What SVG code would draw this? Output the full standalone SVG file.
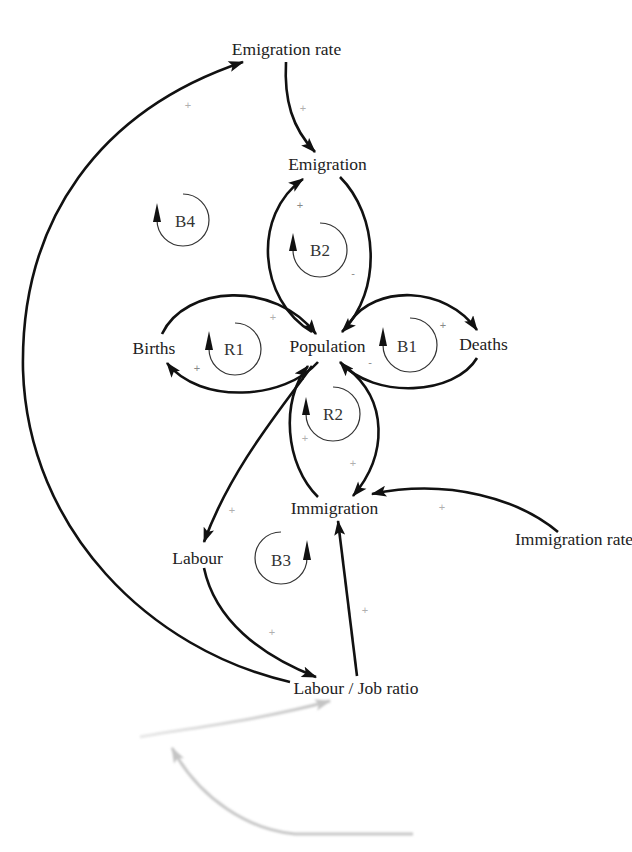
<svg xmlns="http://www.w3.org/2000/svg" width="632" height="852" viewBox="0 0 632 852">
<defs>
<marker id="ah" viewBox="0 0 14 10" refX="13" refY="5" markerWidth="16" markerHeight="11" markerUnits="userSpaceOnUse" orient="auto">
<path d="M0,0 L14,5 L0,10 L3,5 z" fill="#111"/>
</marker>
<marker id="ahg" viewBox="0 0 14 10" refX="13" refY="5" markerWidth="16" markerHeight="12" markerUnits="userSpaceOnUse" orient="auto">
<path d="M0,0 L14,5 L0,10 L3,5 z" fill="#c4c4c4"/>
</marker>
<linearGradient id="fadeL" x1="140" y1="0" x2="330" y2="0" gradientUnits="userSpaceOnUse">
<stop offset="0" stop-color="#e8e8e8"/>
<stop offset="1" stop-color="#c4c4c4"/>
</linearGradient>
<filter id="blur" x="-10%" y="-10%" width="120%" height="120%"><feGaussianBlur stdDeviation="1.2"/></filter>
</defs>
<style>
.lbl{font-family:"Liberation Serif","Times New Roman",serif;font-size:17.5px;fill:#222;text-anchor:middle}
.loop{font-family:"Liberation Serif","Times New Roman",serif;font-size:17px;fill:#333;text-anchor:middle}
.c{fill:none;stroke:#111;stroke-width:2.6;marker-end:url(#ah)}
.ring{fill:none;stroke:#333;stroke-width:1.2}
.tri{fill:#111}
.pol{font-family:"Liberation Sans",Arial,sans-serif;font-size:11px;fill:#b0b0b0;text-anchor:middle}
.polv{font-family:"Liberation Sans",Arial,sans-serif;font-size:11px;fill:#888;text-anchor:middle}
.ghost{fill:none;stroke-width:3;marker-end:url(#ahg);filter:url(#blur)}
</style>
<rect width="632" height="852" fill="#fff"/>

<g id="connectors">
<path class="c" d="M286,62 C284,100 292,128 315,152"/>
<path class="c" d="M290,682 C150,650 28,530 23,370 C20,220 100,110 243,62"/>
<path class="c" d="M312,332 C258,300 252,215 303,179"/>
<path class="c" d="M340,177 C378,215 383,290 342,332"/>
<path class="c" d="M162,334 C185,285 275,280 316,334"/>
<path class="c" d="M350,322 C375,285 445,285 477,330"/>
<path class="c" d="M477,358 C455,395 375,400 340,362"/>
<path class="c" d="M318,362 C285,400 200,405 167,363"/>
<path class="c" d="M312,366 C280,410 230,470 204,542"/>
<path class="c" d="M318,497 C285,465 280,400 308,366"/>
<path class="c" d="M347,368 C388,400 388,455 353,496"/>
<path class="c" d="M558,532 C520,500 450,478 372,494"/>
<path class="c" d="M357,676 L338,521"/>
<path class="c" d="M204,568 C215,620 260,655 316,677"/>
<path class="ghost" stroke="url(#fadeL)" d="M140,737 C190,728 260,720 330,701"/>
<path class="ghost" stroke="#c8c8c8" d="M413,834 L295,834 C250,830 200,800 172,748"/>
</g>

<g id="polarities">
<text class="pol" x="188" y="109">+</text>
<text class="pol" x="303" y="112">+</text>
<text class="polv" x="300" y="209">+</text>
<text class="polv" x="353" y="277">-</text>
<text class="pol" x="273" y="321">+</text>
<text class="polv" x="197" y="372">+</text>
<text class="polv" x="370" y="366">-</text>
<text class="polv" x="443" y="329">+</text>
<text class="pol" x="305" y="442">+</text>
<text class="pol" x="353" y="467">+</text>
<text class="pol" x="232" y="514">+</text>
<text class="pol" x="442" y="511">+</text>
<text class="pol" x="272" y="636">+</text>
<text class="pol" x="365" y="614">+</text>
</g>

<g id="node-emigration-rate"><text class="lbl" x="286.5" y="55">Emigration rate</text></g>
<g id="node-emigration"><text class="lbl" x="327.5" y="170">Emigration</text></g>
<g id="node-births"><text class="lbl" x="154" y="354">Births</text></g>
<g id="node-population"><text class="lbl" x="327.5" y="352">Population</text></g>
<g id="node-deaths"><text class="lbl" x="483.5" y="350">Deaths</text></g>
<g id="node-immigration"><text class="lbl" x="334.5" y="514">Immigration</text></g>
<g id="node-immigration-rate"><text class="lbl" x="515" y="545" style="text-anchor:start">Immigration rate</text></g>
<g id="node-labour"><text class="lbl" x="197.5" y="564">Labour</text></g>
<g id="node-labour-job-ratio"><text class="lbl" x="356" y="694">Labour / Job ratio</text></g>

<g id="loop-B4">
<path class="ring" d="M183,194 A26,26 0 1 1 157,220"/>
<polygon class="tri" points="153,222 157,203 161,222"/>
<text class="loop" x="185" y="227">B4</text>
</g>
<g id="loop-B2">
<path class="ring" d="M320,223 A27,27 0 1 1 293,250"/>
<polygon class="tri" points="289,251 293,233 297,251"/>
<text class="loop" x="320" y="256">B2</text>
</g>
<g id="loop-R1">
<path class="ring" d="M235,323 A26,26 0 1 1 209,349"/>
<polygon class="tri" points="205,350 209,331 213,350"/>
<text class="loop" x="234" y="355">R1</text>
</g>
<g id="loop-B1">
<path class="ring" d="M410,318 A27,27 0 1 1 383,345"/>
<polygon class="tri" points="379,346 383,327 387,346"/>
<text class="loop" x="407" y="352">B1</text>
</g>
<g id="loop-R2">
<path class="ring" d="M333,387 A27,27 0 1 1 306,414"/>
<polygon class="tri" points="302,415 306,397 310,415"/>
<text class="loop" x="333" y="420">R2</text>
</g>
<g id="loop-B3">
<path class="ring" d="M281,532 A26,26 0 1 0 307,558"/>
<polygon class="tri" points="303,560 307,540 311,560"/>
<text class="loop" x="281" y="566">B3</text>
</g>
</svg>
